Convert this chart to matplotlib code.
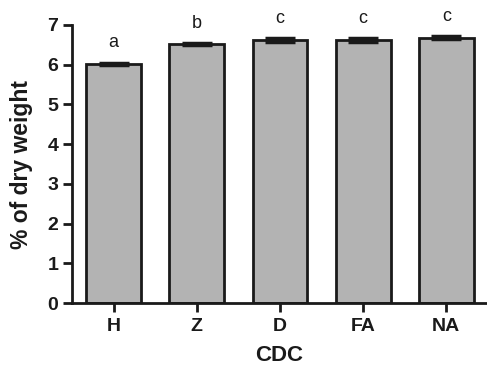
import matplotlib
matplotlib.use("Agg")
import matplotlib.pyplot as plt

plt.rcParams['font.family'] = ['Liberation Sans', 'DejaVu Sans']

# data
groups = ['H', 'Z', 'D', 'FA', 'NA']
values = [6.02, 6.52, 6.62, 6.62, 6.68]
errors = [0.03, 0.03, 0.04, 0.04, 0.03]
letters = ['a', 'b', 'c', 'c', 'c']

fig = plt.figure(figsize=(4.87, 3.67), dpi=100)
ax = fig.add_axes([0.148, 0.174, 0.852, 0.758])

x = range(len(groups))
ax.bar(x, values, width=0.66, color='#b3b3b3', edgecolor='#1a1a1a', linewidth=2, zorder=2)
ax.errorbar(x, values, yerr=errors, fmt='none', ecolor='#1a1a1a', elinewidth=2,
            capsize=11, capthick=2.5, zorder=3)

for i, (v, e, t) in enumerate(zip(values, errors, letters)):
    ax.annotate(t, (i, v + e), xytext=(0, 11), textcoords='offset points',
                ha='center', va='baseline', fontsize=13, color='#1a1a1a', annotation_clip=False)

ax.set_xlim(-0.5, 4.49)
ax.set_ylim(0, 7)
ax.set_yticks(range(0, 8))
ax.set_xticks(list(x))
ax.set_xticklabels(groups)

for s in ['top', 'right']:
    ax.spines[s].set_visible(False)
for s in ['left', 'bottom']:
    ax.spines[s].set_linewidth(2)
    ax.spines[s].set_color('#1a1a1a')

ax.tick_params(axis='both', direction='out', length=6.5, width=2, color='#1a1a1a',
               labelsize=14, labelcolor='#1a1a1a')
ax.tick_params(axis='y', pad=3.5)
ax.tick_params(axis='x', pad=4)
for lab in ax.get_xticklabels() + ax.get_yticklabels():
    lab.set_fontweight('bold')

ax.set_ylabel('% of dry weight', fontsize=16.5, fontweight='bold', color='#1a1a1a')
ax.set_xlabel('CDC', fontsize=16, fontweight='bold', color='#1a1a1a')
ax.yaxis.set_label_coords(-0.094, 0.5)
ax.xaxis.set_label_coords(0.5, -0.150)

fig.savefig('out.png', dpi=100)
